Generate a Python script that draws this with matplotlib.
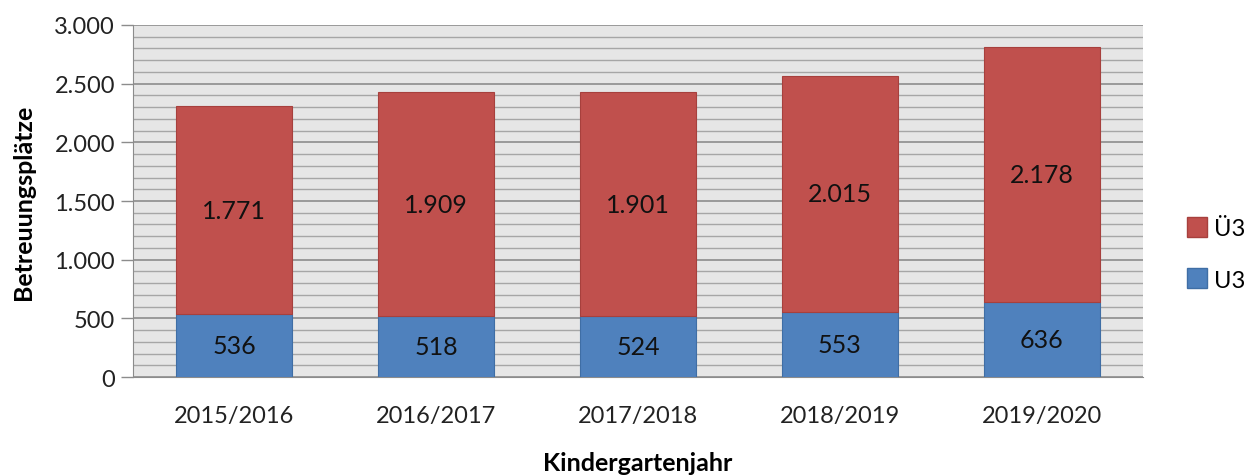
import matplotlib

matplotlib.use("Agg")
import matplotlib.pyplot as plt  # noqa: E402
import numpy as np  # noqa: E402
from matplotlib.lines import Line2D  # noqa: E402
from matplotlib.ticker import FuncFormatter, MultipleLocator  # noqa: E402

years = ["2015/2016", "2016/2017", "2017/2018", "2018/2019", "2019/2020"]
u3 = [536, 518, 524, 553, 636]
ue3 = [1771, 1909, 1901, 2015, 2178]

BLUE = "#4F81BD"
RED = "#C0504D"

plt.rcParams["font.family"] = ["Lato", "DejaVu Sans"]


def de_fmt(v, _pos=None):
    return f"{int(round(v)):,}".replace(",", ".")


fig = plt.figure(figsize=(12.56, 4.77), dpi=100)
ax = fig.add_axes([0.1059, 0.2075, 0.804, 0.738])
ax.set_facecolor("#E6E6E6")

x = np.arange(len(years))
w = 0.575
ax.bar(x, u3, w, color=BLUE, edgecolor="#3F6EA5", lw=0.8, zorder=3)
ax.bar(x, ue3, w, bottom=u3, color=RED, edgecolor="#A7403D", lw=0.8, zorder=3)

for i in range(len(years)):
    ax.text(x[i], u3[i] / 2, de_fmt(u3[i]), ha="center", va="center",
            fontsize=18, color="#111111", zorder=4)
    ax.text(x[i], u3[i] + ue3[i] / 2, de_fmt(ue3[i]), ha="center", va="center",
            fontsize=18, color="#111111", zorder=4)

ax.set_xlim(-0.5, len(years) - 0.5)
ax.set_ylim(0, 3000)
ax.yaxis.set_major_locator(MultipleLocator(500))
ax.yaxis.set_minor_locator(MultipleLocator(100))
ax.yaxis.set_major_formatter(FuncFormatter(de_fmt))
ax.grid(axis="y", which="minor", color="#A6A6A6", lw=1.0, zorder=1)
ax.grid(axis="y", which="major", color="#8C8C8C", lw=1.2, zorder=1)

ax.set_xticks(x)
ax.set_xticklabels(years)
ax.tick_params(axis="x", length=0, labelsize=17, pad=20, colors="#222222")
ax.tick_params(axis="y", which="major", length=9, width=1, color="#8C8C8C",
               labelsize=17, pad=4, labelcolor="#222222")
ax.tick_params(axis="y", which="minor", length=0)

for side in ("top", "right"):
    ax.spines[side].set_visible(False)
ax.spines["left"].set_color("#8C8C8C")
ax.spines["bottom"].set_color("#8C8C8C")

ax.set_ylabel("Betreuungsplätze", fontsize=18, fontweight="bold", labelpad=14)
ax.set_xlabel("Kindergartenjahr", fontsize=18, fontweight="bold", labelpad=18)

handles = [
    Line2D([], [], marker="s", ls="", markersize=14, markerfacecolor=RED,
           markeredgecolor="#A7403D"),
    Line2D([], [], marker="s", ls="", markersize=14, markerfacecolor=BLUE,
           markeredgecolor="#3F6EA5"),
]
fig.legend(handles, ["Ü3", "U3"], loc="center left", bbox_to_anchor=(0.927, 0.465),
           frameon=False, fontsize=17, handletextpad=0.2, labelspacing=1.3,
           handlelength=1.0)

fig.savefig("out.png", dpi=100)
